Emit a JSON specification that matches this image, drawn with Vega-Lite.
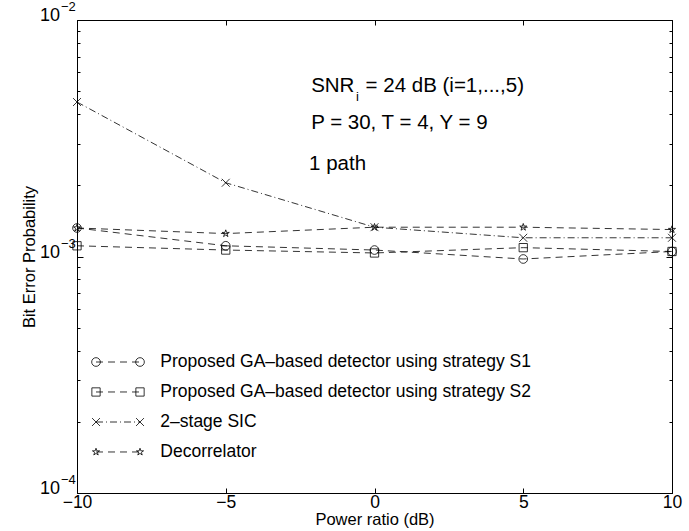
{
  "$schema": "https://vega.github.io/schema/vega-lite/v6.json",
  "width": 595,
  "height": 473,
  "autosize": {"type": "none"},
  "padding": {"left": 77, "top": 20, "right": 17, "bottom": 38},
  "background": "white",
  "config": {
    "view": {"stroke": "black", "strokeWidth": 1},
    "font": "Liberation Sans",
    "axis": {
      "domainColor": "black", "tickColor": "black", "labelColor": "black", "titleColor": "black",
      "labelFont": "Liberation Sans", "titleFont": "Liberation Sans",
      "labelFontSize": 17.5, "titleFontSize": 16.5, "titleFontWeight": "normal",
      "grid": false, "domainWidth": 1, "tickWidth": 1
    }
  },
  "datasets": {
    "series": [
      {"s": "S1", "x": -10, "y": 0.00132},
      {"s": "S1", "x": -5, "y": 0.00111},
      {"s": "S1", "x": 0, "y": 0.001065},
      {"s": "S1", "x": 5, "y": 0.000976},
      {"s": "S1", "x": 10, "y": 0.00105},
      {"s": "S2", "x": -10, "y": 0.00111},
      {"s": "S2", "x": -5, "y": 0.001065},
      {"s": "S2", "x": 0, "y": 0.001035},
      {"s": "S2", "x": 5, "y": 0.00109},
      {"s": "S2", "x": 10, "y": 0.00105},
      {"s": "SIC", "x": -10, "y": 0.0045},
      {"s": "SIC", "x": -5, "y": 0.00205},
      {"s": "SIC", "x": 0, "y": 0.00133},
      {"s": "SIC", "x": 5, "y": 0.0012},
      {"s": "SIC", "x": 10, "y": 0.0012},
      {"s": "DEC", "x": -10, "y": 0.00132},
      {"s": "DEC", "x": -5, "y": 0.00125},
      {"s": "DEC", "x": 0, "y": 0.00133},
      {"s": "DEC", "x": 5, "y": 0.00133},
      {"s": "DEC", "x": 10, "y": 0.0013}
    ],
    "legendMarks": [
      {"s": "S1", "x": -9.361, "y": 0.000358},
      {"s": "S1", "x": -7.882, "y": 0.000358},
      {"s": "S2", "x": -9.361, "y": 0.0002674},
      {"s": "S2", "x": -7.882, "y": 0.0002674},
      {"s": "SIC", "x": -9.361, "y": 0.0001996},
      {"s": "SIC", "x": -7.882, "y": 0.0001996},
      {"s": "DEC", "x": -9.361, "y": 0.0001491},
      {"s": "DEC", "x": -7.882, "y": 0.0001491}
    ],
    "legendText": [
      {"t": "Proposed GA–based detector using strategy S1", "x": -7.2, "y": 0.000358},
      {"t": "Proposed GA–based detector using strategy S2", "x": -7.2, "y": 0.0002674},
      {"t": "2–stage SIC", "x": -7.2, "y": 0.0001996},
      {"t": "Decorrelator", "x": -7.2, "y": 0.0001491}
    ],
    "notes": [
      {"t": "SNR", "x": -2.13, "y": 0.00526},
      {"t": "= 24 dB (i=1,...,5)", "x": -0.3, "y": 0.00526},
      {"t": "P = 30, T = 4,  Y = 9", "x": -2.13, "y": 0.00367},
      {"t": "1 path", "x": -2.2, "y": 0.00246}
    ],
    "sub": [
      {"t": "i", "x": -0.62, "y": 0.004725}
    ],
    "decades": [
      {"v": 0.01, "e": "−2"},
      {"v": 0.001, "e": "−3"},
      {"v": 0.0001, "e": "−4"}
    ]
  },
  "layer": [
    {
      "data": {"name": "series"},
      "mark": {"type": "line", "color": "black", "strokeWidth": 0.8},
      "encoding": {
        "x": {"field": "x", "type": "quantitative",
              "scale": {"domain": [-10, 10], "nice": false, "zero": false},
              "axis": {"orient": "bottom", "values": [-10, -5, 0, 5, 10], "tickSize": -5, "labelPadding": 5,
                       "title": "Power ratio (dB)", "titlePadding": 1, "labelFlush": false}},
        "y": {"field": "y", "type": "quantitative",
              "scale": {"type": "log", "domain": [0.0001, 0.01], "nice": false},
              "axis": {"orient": "left", "labels": false,
                       "values": [0.0001, 0.0002, 0.0003, 0.0004, 0.0005, 0.0006, 0.0007, 0.0008, 0.0009, 0.001, 0.002, 0.003, 0.004, 0.005, 0.006, 0.007, 0.008, 0.009, 0.01],
                       "tickSize": {"condition": {"test": "datum.value == 0.01 || datum.value == 0.001 || datum.value == 0.0001", "value": -6}, "value": -3},
                       "title": "Bit Error Probability", "titlePadding": 39}},
        "detail": {"field": "s"},
        "strokeDash": {"field": "s", "type": "nominal",
                       "scale": {"domain": ["S1", "S2", "SIC", "DEC"], "range": [[7, 5], [7, 5], [7, 3, 1, 3], [7, 5]]},
                       "legend": null}
      }
    },
    {
      "data": {"name": "series"},
      "mark": {"type": "point", "filled": false, "color": "black", "strokeWidth": 0.8, "opacity": 1},
      "encoding": {
        "x": {"field": "x", "type": "quantitative",
              "axis": {"orient": "top", "labels": false, "values": [-10, -5, 0, 5, 10], "tickSize": -5, "title": null}},
        "y": {"field": "y", "type": "quantitative",
              "axis": {"orient": "right", "labels": false,
                       "values": [0.0001, 0.0002, 0.0003, 0.0004, 0.0005, 0.0006, 0.0007, 0.0008, 0.0009, 0.001, 0.002, 0.003, 0.004, 0.005, 0.006, 0.007, 0.008, 0.009, 0.01],
                       "tickSize": {"condition": {"test": "datum.value == 0.01 || datum.value == 0.001 || datum.value == 0.0001", "value": -6}, "value": -3},
                       "title": null}},
        "shape": {"field": "s", "type": "nominal",
                  "scale": {"domain": ["S1", "S2", "SIC", "DEC"],
                            "range": ["circle", "square", "M-1,-1L1,1M-1,1L1,-1", "M0,-1L0.2245,-0.309L0.951,-0.309L0.363,0.118L0.588,0.809L0,0.382L-0.588,0.809L-0.363,0.118L-0.951,-0.309L-0.2245,-0.309Z"]},
                  "legend": null},
        "size": {"field": "s", "type": "nominal",
                 "scale": {"domain": ["S1", "S2", "SIC", "DEC"], "range": [75, 56, 30, 115]},
                 "legend": null}
      }
    },
    {
      "data": {"name": "legendMarks"},
      "mark": {"type": "line", "color": "black", "strokeWidth": 0.8},
      "encoding": {
        "x": {"field": "x", "type": "quantitative", "axis": null},
        "y": {"field": "y", "type": "quantitative", "axis": null},
        "detail": {"field": "s"},
        "strokeDash": {"field": "s", "type": "nominal", "legend": null}
      }
    },
    {
      "data": {"name": "legendMarks"},
      "mark": {"type": "point", "filled": false, "color": "black", "strokeWidth": 0.8, "opacity": 1},
      "encoding": {
        "x": {"field": "x", "type": "quantitative", "axis": null},
        "y": {"field": "y", "type": "quantitative", "axis": null},
        "shape": {"field": "s", "type": "nominal", "legend": null},
        "size": {"field": "s", "type": "nominal", "legend": null}
      }
    },
    {
      "data": {"name": "legendText"},
      "mark": {"type": "text", "align": "left", "baseline": "middle", "fontSize": 17.5, "font": "Liberation Sans", "fill": "black"},
      "encoding": {
        "x": {"field": "x", "type": "quantitative", "axis": null},
        "y": {"field": "y", "type": "quantitative", "axis": null},
        "text": {"field": "t"}
      }
    },
    {
      "data": {"name": "notes"},
      "mark": {"type": "text", "align": "left", "baseline": "middle", "fontSize": 20.5, "font": "Liberation Sans", "fill": "black"},
      "encoding": {
        "x": {"field": "x", "type": "quantitative", "axis": null},
        "y": {"field": "y", "type": "quantitative", "axis": null},
        "text": {"field": "t"}
      }
    },
    {
      "data": {"name": "sub"},
      "mark": {"type": "text", "align": "left", "baseline": "middle", "fontSize": 13, "font": "Liberation Sans", "fill": "black"},
      "encoding": {
        "x": {"field": "x", "type": "quantitative", "axis": null},
        "y": {"field": "y", "type": "quantitative", "axis": null},
        "text": {"field": "t"}
      }
    },
    {
      "data": {"name": "decades"},
      "mark": {"type": "text", "align": "right", "baseline": "middle", "fontSize": 18, "font": "Liberation Sans", "fill": "black", "dx": -17, "dy": -4},
      "encoding": {
        "x": {"datum": -10, "type": "quantitative", "axis": null},
        "y": {"field": "v", "type": "quantitative", "axis": null},
        "text": {"value": "10"}
      }
    },
    {
      "data": {"name": "decades"},
      "mark": {"type": "text", "align": "left", "baseline": "middle", "fontSize": 13, "font": "Liberation Sans", "fill": "black", "dx": -16, "dy": -13},
      "encoding": {
        "x": {"datum": -10, "type": "quantitative", "axis": null},
        "y": {"field": "v", "type": "quantitative", "axis": null},
        "text": {"field": "e"}
      }
    }
  ],
  "resolve": {"axis": {"x": "independent", "y": "independent"}}
}
